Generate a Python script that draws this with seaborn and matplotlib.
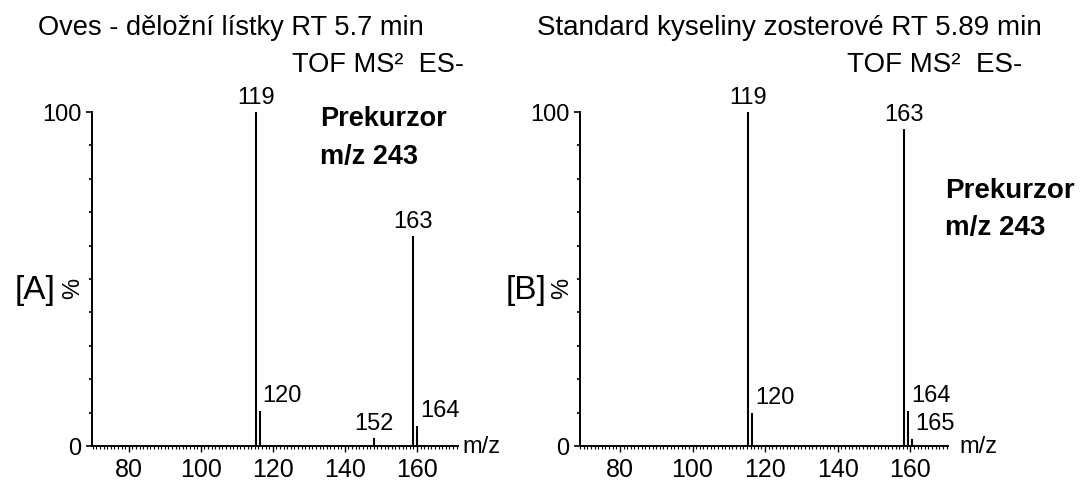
import matplotlib
matplotlib.use('Agg')
import matplotlib.pyplot as plt
import seaborn as sns
import pandas as pd
from matplotlib.ticker import MultipleLocator, FixedLocator

# hodnoty (poloha na ose x, intenzita v %)
mz_a = [115.3, 116.3, 148.2, 159.0, 160.0]
int_a = [100, 10.5, 2.5, 63, 6]
lab_a = ["119", "120", "152", "163", "164"]

mz_b = [115.3, 116.4, 158.4, 159.5, 160.5]
int_b = [100, 10, 95, 10.5, 2]
lab_b = ["119", "120", "163", "164", "165"]

x_ticks = [80, 100, 120, 140, 160]
y_ticks = [0, 100]

titul_a = "Oves - děložní lístky RT 5.7 min"
titul_b = "Standard kyseliny zosterové RT 5.89 min"

sns.set_theme(style="ticks")
plt.rcParams['font.family'] = ['Liberation Sans', 'DejaVu Sans']
plt.rcParams['text.color'] = 'black'

fig = plt.figure(figsize=(10.8, 4.81), dpi=100)
W, H = 1080, 481


def fx(px):
    return px / W


def fy(py):
    return 1 - py / H


# 1. panely
panely = [
    dict(df=pd.DataFrame({'mz': mz_a, 'int': int_a, 'lab': lab_a}),
         rect=[fx(92), fy(447), fx(458) - fx(92), fy(113) - fy(447)],
         xlim=(69.8, 171.4), mista=['above', 'right', 'above', 'above', 'right'],
         mz_off=4),
    dict(df=pd.DataFrame({'mz': mz_b, 'int': int_b, 'lab': lab_b}),
         rect=[fx(580), fy(447), fx(948) - fx(580), fy(113) - fy(447)],
         xlim=(69.0, 170.4), mista=['above', 'right', 'above', 'right', 'right'],
         mz_off=11),
]

for p in panely:
    ax = fig.add_axes(p['rect'])
    df = p['df']
    ax.vlines(df['mz'], 0, df['int'], color='black', linewidth=1.5)
    ax.set_xlim(*p['xlim'])
    ax.set_ylim(0, 100)
    sns.despine(ax=ax)
    for s in ['left', 'bottom']:
        ax.spines[s].set_linewidth(1.4)
        ax.spines[s].set_color('black')
    ax.xaxis.set_major_locator(FixedLocator(x_ticks))
    ax.xaxis.set_minor_locator(MultipleLocator(1))
    ax.yaxis.set_major_locator(FixedLocator(y_ticks))
    ax.yaxis.set_minor_locator(MultipleLocator(10))
    ax.tick_params(axis='x', which='major', length=4, width=1, pad=4,
                   labelsize=18, color='black', labelcolor='black')
    ax.tick_params(axis='x', which='minor', length=2.5, width=0.8, color='black')
    ax.tick_params(axis='y', which='major', length=4.5, width=1.2, pad=3,
                   labelsize=17, color='black', labelcolor='black')
    ax.tick_params(axis='y', which='minor', length=2, width=1.2, color='black')
    ax.patch.set_alpha(0)

    # popisky píků
    for (_, r), misto in zip(df.iterrows(), p['mista']):
        if misto == 'above':
            ax.annotate(r['lab'], (r['mz'], r['int']), xytext=(0, 15),
                        textcoords='offset pixels', ha='center', va='center',
                        fontsize=17, annotation_clip=False)
        else:
            ax.annotate(r['lab'], (r['mz'], r['int']), xytext=(3, 16),
                        textcoords='offset pixels', ha='left', va='center',
                        fontsize=17, annotation_clip=False)

    ax.annotate("m/z", (1, 0), xycoords='axes fraction', xytext=(p['mz_off'], 0),
                textcoords='offset pixels', ha='left', va='center', fontsize=17)

# 2. texty
fig.text(fx(38), fy(28), titul_a, ha='left', va='center', fontsize=19.6)
fig.text(fx(292), fy(65), "TOF MS²  ES-", ha='left', va='center', fontsize=19.6)
fig.text(fx(320), fy(119), "Prekurzor", ha='left', va='center', fontsize=19.5, fontweight='bold')
fig.text(fx(320), fy(157), "m/z 243", ha='left', va='center', fontsize=19.5, fontweight='bold')
fig.text(fx(15), fy(290), "[A]", ha='left', va='center', fontsize=24)
fig.text(fx(73), fy(288), "%", ha='center', va='center', fontsize=17, rotation=90)

fig.text(fx(537), fy(28), titul_b, ha='left', va='center', fontsize=20)
fig.text(fx(847), fy(65), "TOF MS²  ES-", ha='left', va='center', fontsize=20)
fig.text(fx(945), fy(191), "Prekurzor", ha='left', va='center', fontsize=20, fontweight='bold')
fig.text(fx(945), fy(228), "m/z 243", ha='left', va='center', fontsize=20, fontweight='bold')
fig.text(fx(506), fy(290), "[B]", ha='left', va='center', fontsize=24)
fig.text(fx(562), fy(288), "%", ha='center', va='center', fontsize=17, rotation=90)

fig.savefig("out.png", dpi=100, facecolor='white')
